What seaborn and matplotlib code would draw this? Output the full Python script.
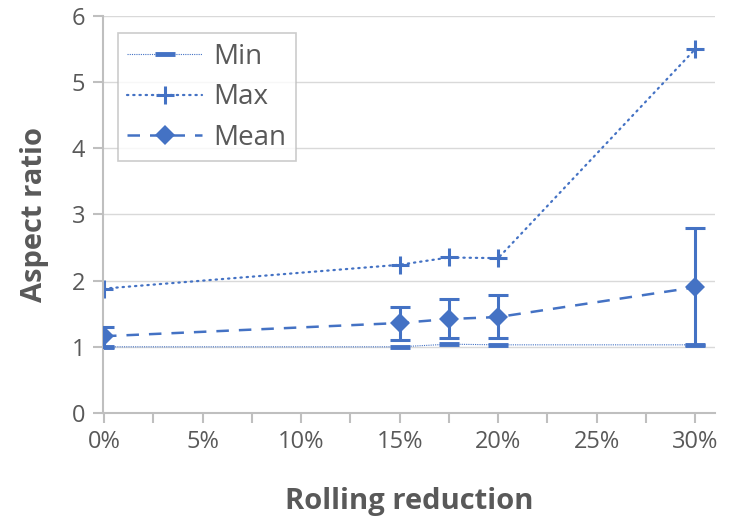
import numpy as np
import pandas as pd
import matplotlib
matplotlib.use("Agg")
import matplotlib.pyplot as plt
import seaborn as sns
from matplotlib.ticker import FuncFormatter, MultipleLocator

reduction = [0, 15, 17.5, 20, 30]
min_vals = [1.0, 1.0, 1.04, 1.03, 1.03]
max_vals = [1.88, 2.24, 2.35, 2.34, 5.50]
mean_vals = [1.16, 1.36, 1.42, 1.45, 1.90]
mean_err_low = [1.0, 1.11, 1.13, 1.13, 1.02]
mean_err_high = [1.30, 1.60, 1.73, 1.79, 2.79]

sns.set_theme(style="white")
plt.rcParams['font.family'] = ['Open Sans', 'DejaVu Sans']

blue = "#4472C4"
gray = "#595959"
axis_gray = "#BFBFBF"
df = pd.DataFrame({"x": reduction, "Min": min_vals, "Max": max_vals, "Mean": mean_vals})

fig = plt.figure(figsize=(7.29, 5.2), dpi=100)
ax = fig.add_axes([0.1413, 0.2058, 0.8395, 0.7635])

sns.lineplot(data=df, x="x", y="Min", ax=ax, color=blue, lw=0.8, linestyle=(0, (1, 1)),
             marker="_", markersize=15, markeredgewidth=3.5, markeredgecolor=blue,
             label="Min")
sns.lineplot(data=df, x="x", y="Max", ax=ax, color=blue, lw=1.6, linestyle=(0, (0.6, 2.2)),
             dash_capstyle="round", marker="+", markersize=13, markeredgewidth=2.2,
             markeredgecolor=blue, label="Max")
sns.lineplot(data=df, x="x", y="Mean", ax=ax, color=blue, lw=1.8, linestyle=(0, (5, 4)),
             marker="D", markersize=10, markeredgewidth=0, label="Mean")
m = np.array(mean_vals)
ax.errorbar(reduction, mean_vals, yerr=[m - np.array(mean_err_low), np.array(mean_err_high) - m],
            fmt="none", ecolor=blue, elinewidth=2.2, capsize=7, capthick=2.2, zorder=3)

ax.set_ylim(0, 6)
ax.set_xlim(-0.05, 31)
ax.xaxis.set_major_locator(MultipleLocator(5))
ax.xaxis.set_minor_locator(MultipleLocator(2.5))
ax.yaxis.set_major_locator(MultipleLocator(1))
ax.xaxis.set_major_formatter(FuncFormatter(lambda v, p: f"{v:.0f}%"))
ax.grid(axis="y", color="#D9D9D9", lw=1)
ax.set_axisbelow(True)
for s in ["top", "right"]:
    ax.spines[s].set_visible(False)
for s in ["left", "bottom"]:
    ax.spines[s].set_color(axis_gray)
    ax.spines[s].set_linewidth(1.5)
ax.spines["bottom"].set_bounds(0, 31)
ax.tick_params(axis="y", left=True, length=7, width=1.5, color=axis_gray, labelsize=17,
               labelcolor=gray, pad=6)
ax.tick_params(axis="x", which="both", bottom=True, length=7, width=1.5, color=axis_gray,
               labelsize=17, labelcolor=gray, pad=5)
ax.set_xlabel("Rolling reduction", fontsize=21, fontweight="bold", color=gray, labelpad=24)
ax.set_ylabel("Aspect ratio", fontsize=21, fontweight="bold", color=gray, labelpad=16)

leg = ax.legend(loc="upper left", bbox_to_anchor=(0.024, 0.957), borderaxespad=0,
                fontsize=20, frameon=True, fancybox=False, edgecolor=axis_gray,
                handlelength=2.7, labelspacing=0.45, borderpad=0.35, handletextpad=0.4)
for t in leg.get_texts():
    t.set_color(gray)
leg.get_frame().set_linewidth(1.2)

fig.savefig("out.png", dpi=100)
